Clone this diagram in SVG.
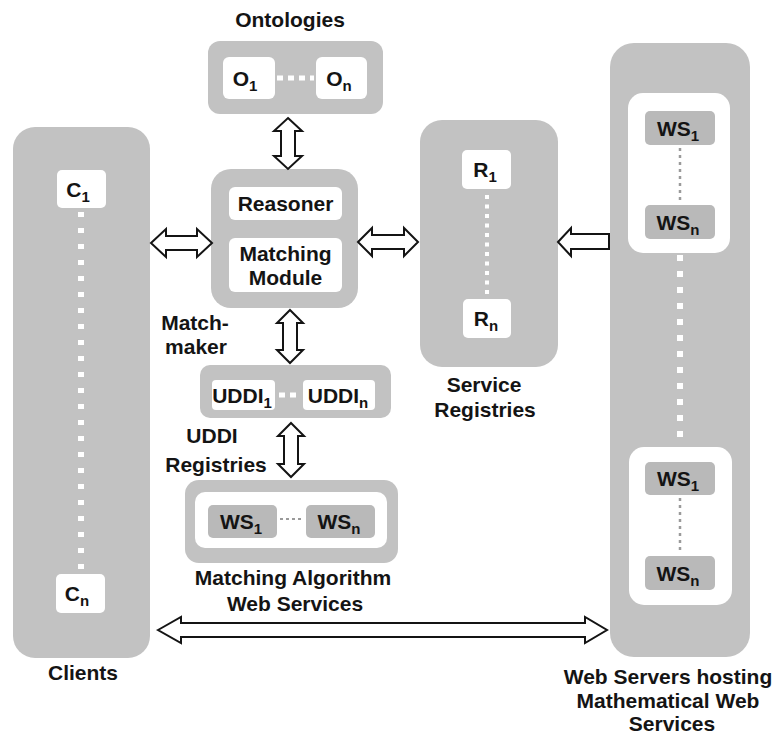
<svg xmlns="http://www.w3.org/2000/svg" width="782" height="734" viewBox="0 0 782 734">
<style>
.g{fill:#c2c2c2}
.w{fill:#ffffff}
.gb{fill:#b9b9b9}
text{font-family:"Liberation Sans",Arial,sans-serif;font-weight:bold;fill:#141414;font-size:21px}
.c{text-anchor:middle}
.sub{font-size:15px}
.arr{fill:#ffffff;stroke:#141414;stroke-width:2;stroke-linejoin:miter}
.wd{stroke:#ffffff;fill:none}
.gd{stroke:#9a9a9a;fill:none}
</style>
<rect width="782" height="734" fill="#ffffff"/>

<g id="ontologies">
<text class="c" x="290" y="27">Ontologies</text>
<rect class="g" x="208" y="41" width="175" height="73" rx="12"/>
<rect class="w" x="223" y="57" width="52" height="42" rx="6"/>
<rect class="w" x="316" y="57" width="51" height="42" rx="6"/>
<line class="wd" x1="277" y1="78" x2="314" y2="78" stroke-width="5" stroke-dasharray="6 5"/>
<text class="c" x="245" y="86">O<tspan class="sub" dy="5">1</tspan></text>
<text class="c" x="339" y="86">O<tspan class="sub" dy="5">n</tspan></text>
</g>

<g id="clients">
<rect class="g" x="13" y="127" width="137" height="531" rx="22"/>
<rect class="w" x="57" y="170" width="49" height="38" rx="5"/>
<rect class="w" x="56" y="574" width="49" height="39" rx="5"/>
<line class="wd" x1="81" y1="212" x2="81" y2="572" stroke-width="6" stroke-dasharray="5 11"/>
<text class="c" x="78" y="197">C<tspan class="sub" dy="5">1</tspan></text>
<text class="c" x="77" y="601">C<tspan class="sub" dy="5">n</tspan></text>
<text class="c" x="83" y="680">Clients</text>
</g>

<g id="matchmaker">
<rect class="g" x="211" y="169" width="147" height="139" rx="20"/>
<rect class="w" x="229" y="187" width="113" height="33" rx="6"/>
<rect class="w" x="229" y="238" width="113" height="54" rx="6"/>
<text class="c" x="285.5" y="211">Reasoner</text>
<text class="c" x="285.5" y="261">Matching</text>
<text class="c" x="285.5" y="285">Module</text>
<text class="c" x="195" y="330">Match-</text>
<text class="c" x="196" y="354">maker</text>
</g>

<g id="service-registries">
<rect class="g" x="420" y="120" width="138" height="247" rx="22"/>
<rect class="w" x="462" y="150" width="49" height="39" rx="5"/>
<rect class="w" x="463" y="299" width="48" height="39" rx="5"/>
<line class="wd" x1="487" y1="195" x2="487" y2="297" stroke-width="4" stroke-dasharray="4 5.5"/>
<text class="c" x="485" y="177">R<tspan class="sub" dy="5">1</tspan></text>
<text class="c" x="486" y="326">R<tspan class="sub" dy="5">n</tspan></text>
<text class="c" x="484" y="392">Service</text>
<text class="c" x="485" y="417">Registries</text>
</g>

<g id="web-servers">
<rect class="g" x="610" y="43" width="140" height="614" rx="24"/>
<rect class="w" x="628" y="93" width="102" height="160" rx="15"/>
<rect class="w" x="629" y="447" width="103" height="158" rx="15"/>
<line class="wd" x1="680" y1="255" x2="680" y2="445" stroke-width="6" stroke-dasharray="6 10"/>
<rect class="gb" x="645" y="111" width="70" height="34" rx="5"/>
<rect class="gb" x="645" y="205" width="70" height="34" rx="5"/>
<line class="gd" x1="680" y1="148" x2="680" y2="203" stroke-width="2.5" stroke-dasharray="3 4"/>
<text class="c" x="678" y="136">WS<tspan class="sub" dy="5">1</tspan></text>
<text class="c" x="678" y="230">WS<tspan class="sub" dy="5">n</tspan></text>
<rect class="gb" x="645" y="462" width="70" height="33" rx="5"/>
<rect class="gb" x="645" y="556" width="70" height="34" rx="5"/>
<line class="gd" x1="680" y1="498" x2="680" y2="554" stroke-width="2.5" stroke-dasharray="3 4"/>
<text class="c" x="678" y="486">WS<tspan class="sub" dy="5">1</tspan></text>
<text class="c" x="678" y="581">WS<tspan class="sub" dy="5">n</tspan></text>
<text class="c" x="668" y="684">Web Servers hosting</text>
<text class="c" x="668" y="708">Mathematical Web</text>
<text class="c" x="672" y="731">Services</text>
</g>

<g id="uddi-registries">
<rect class="g" x="200" y="365" width="191" height="53" rx="10"/>
<rect class="w" x="212" y="380" width="63" height="30" rx="4"/>
<rect class="w" x="303" y="380" width="72" height="30" rx="4"/>
<line class="wd" x1="279" y1="395" x2="301" y2="395" stroke-width="5" stroke-dasharray="6 5"/>
<text class="c" x="242" y="403">UDDI<tspan class="sub" dy="5">1</tspan></text>
<text class="c" x="338" y="403">UDDI<tspan class="sub" dy="5">n</tspan></text>
<text class="c" x="212" y="443">UDDI</text>
<text class="c" x="216" y="472">Registries</text>
</g>

<g id="matching-algorithm-ws">
<rect class="g" x="185" y="480" width="213" height="83" rx="14"/>
<rect class="w" x="195" y="492" width="192" height="56" rx="10"/>
<rect class="gb" x="208" y="505" width="69" height="33" rx="5"/>
<rect class="gb" x="306" y="505" width="69" height="33" rx="5"/>
<line class="gd" x1="280" y1="519" x2="304" y2="519" stroke-width="2" stroke-dasharray="3 3"/>
<text class="c" x="241" y="529">WS<tspan class="sub" dy="5">1</tspan></text>
<text class="c" x="339" y="529">WS<tspan class="sub" dy="5">n</tspan></text>
<text class="c" x="293" y="585">Matching Algorithm</text>
<text class="c" x="295" y="611">Web Services</text>
</g>

<g id="connectors">
<polygon class="arr" points="288,118 302,131 295,131 295,156 302,156 288,169 274,156 281,156 281,131 274,131"/>
<polygon class="arr" points="151,243 166,229 166,236 197,236 197,229 212,243 197,257 197,250 166,250 166,257"/>
<polygon class="arr" points="358,242 372,228 372,235 404,235 404,228 418,242 404,256 404,249 372,249 372,256"/>
<polygon class="arr" points="558,242 571,228 571,234 609,234 609,249 571,249 571,256"/>
<polygon class="arr" points="290,310 303,323 297,323 297,350 303,350 290,363 277,350 283,350 283,323 277,323"/>
<polygon class="arr" points="291,423 304,436 298,436 298,464 304,464 291,477 278,464 284,464 284,436 278,436"/>
<polygon class="arr" points="158,630 181,617 181,623 585,623 585,617 607,630 585,643 585,637 181,637 181,643"/>
</g>
</svg>
